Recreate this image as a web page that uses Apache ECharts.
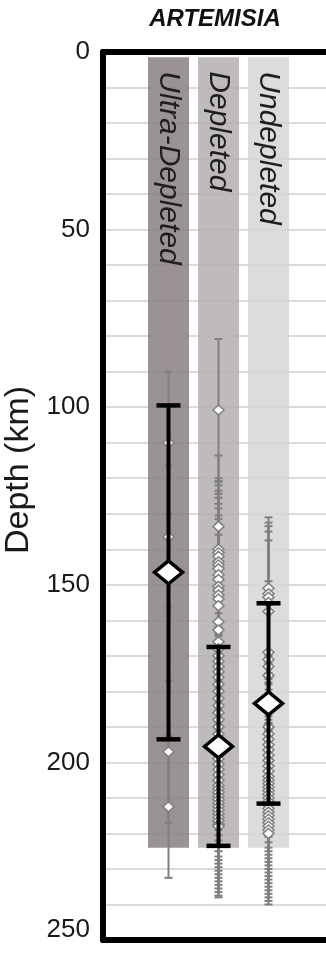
<!DOCTYPE html>
<html>
<head>
<meta charset="utf-8">
<script src="https://cdn.jsdelivr.net/npm/echarts@6/dist/echarts.min.js"></script>
<style>
  html, body { margin: 0; padding: 0; background: #fff; }
  #chart { width: 326px; height: 953px; }
</style>
</head>
<body>
<div id="chart"></div>
<script>
// Mantle sample groups (one column each)
const categories = ['Ultra-Depleted', 'Depleted', 'Undepleted'];

// Depth span covered by each shaded column (km)
const columnDepthRange = [1.5, 224];

// Individual sample depths (km) per group
const ultraDepletedDepths = [110, 136.5, 197, 212.5];
const depletedDepths = [
  100.8, 133.6, 140, 141, 142, 143.5, 144.4, 145.5, 147.2, 148.5, 150.5, 151.5,
  152.9, 154, 155.9, 160.4, 162.7, 166, 168, 170, 171.5, 173, 174.5, 176, 178,
  180, 182, 184, 186, 188, 190, 192, 194, 197, 199, 200.5, 202, 203.5, 205,
  206.5, 207.5, 208.5, 209.5, 210.5, 211.5, 212.5, 213.5, 214.5, 215.5, 216.5,
  217.5, 218
];
const undepletedDepths = [
  151, 152.5, 153.5, 155, 157.5, 169, 171, 173, 175.5, 190, 192, 193.5, 195,
  196.5, 198, 199.5, 201, 202.5, 204, 205, 206, 207, 208, 209, 210, 211, 212,
  213, 214, 215, 216, 217, 218, 219, 220
];
// Depth uncertainty of a single sample (km)
const sampleError = 20;

// Group averages and their spread (km)
const meanDepth = [146.5, 195.5, 183.4];
const meanError = [47, 28, 28.2];

// Depth axis
const depthMin = 0;
const depthMax = 250;
const depthLabelStep = 50;
const depthGridStep = 10;

const sampleDepths = [ultraDepletedDepths, depletedDepths, undepletedDepths];
const columnColors = ['rgba(137,128,128,0.85)', 'rgba(180,175,175,0.85)', 'rgba(214,214,216,0.85)'];
const LABEL_FONT = '"Liberation Sans", Arial, sans-serif';
const X_MIN = -1.31, X_MAX = 3.23;

const columnData = categories.map((c, i) => [i, columnDepthRange[0], columnDepthRange[1]]);
const sampleData = [];
sampleDepths.forEach((list, i) => list.forEach(d => sampleData.push([i, d, sampleError])));
const meanData = meanDepth.map((d, i) => [i, d, meanError[i]]);

function errorBar(color, lineWidth, capHalf, capWidth) {
  return function (params, api) {
    const i = api.value(0), d = api.value(1), e = api.value(2);
    const top = api.coord([i, d - e]);
    const bot = api.coord([i, d + e]);
    const s = { stroke: color, lineWidth: lineWidth };
    const c = { stroke: color, lineWidth: capWidth };
    return {
      type: 'group',
      children: [
        { type: 'line', shape: { x1: top[0], y1: top[1], x2: bot[0], y2: bot[1] }, style: s },
        { type: 'line', shape: { x1: top[0] - capHalf, y1: top[1], x2: top[0] + capHalf, y2: top[1] }, style: c },
        { type: 'line', shape: { x1: bot[0] - capHalf, y1: bot[1], x2: bot[0] + capHalf, y2: bot[1] }, style: c }
      ]
    };
  };
}

// Frame edges along the top and bottom of the plot
function frameAxis(position) {
  return {
    type: 'value', min: X_MIN, max: X_MAX, position: position,
    axisLine: { show: true, onZero: false, lineStyle: { color: '#000', width: 6 } },
    axisTick: { show: false },
    axisLabel: { show: false },
    splitLine: { show: false }
  };
}

const chart = echarts.init(document.getElementById('chart'), null, { renderer: 'canvas' });
chart.setOption({
  animation: false,
  backgroundColor: '#fff',
  graphic: [{
    type: 'text',
    x: 215, y: 19,
    style: {
      text: 'ARTEMISIA',
      font: 'italic bold 24px ' + LABEL_FONT,
      fill: '#111',
      align: 'center',
      verticalAlign: 'middle'
    }
  }],
  grid: {
    left: 103, right: -4, top: 52, bottom: 13, show: false,
    containLabel: false, outerBoundsMode: 'none'
  },
  xAxis: [frameAxis('bottom'), frameAxis('top')],
  yAxis: {
    type: 'value',
    inverse: true,
    min: depthMin, max: depthMax, interval: depthGridStep,
    name: 'Depth (km)',
    nameLocation: 'middle',
    nameGap: 54,
    nameTextStyle: { fontSize: 34, fontFamily: LABEL_FONT, color: '#1a1a1a', padding: [0, 0, 0, 52] },
    axisLine: { show: true, onZero: false, lineStyle: { color: '#000', width: 6 } },
    axisTick: { show: false },
    axisLabel: {
      margin: 13,
      fontSize: 26,
      fontFamily: LABEL_FONT,
      color: '#1a1a1a',
      showMinLabel: true, showMaxLabel: true,
      formatter: v => (v % depthLabelStep === 0 ? (v === depthMax ? '{up|' + v + '}' : String(v)) : ''),
      rich: { up: { fontSize: 26, fontFamily: LABEL_FONT, color: '#1a1a1a', padding: [0, 0, 20, 0] } }
    },
    splitLine: { show: true, lineStyle: { color: '#cfcfcf', width: 1.5 } }
  },
  series: [
    {
      type: 'custom',
      data: columnData,
      z: 1,
      renderItem: function (params, api) {
        const i = api.value(0);
        const p0 = api.coord([i - 0.41, api.value(1)]);
        const p1 = api.coord([i + 0.41, api.value(2)]);
        return {
          type: 'group',
          children: [
            { type: 'rect', shape: { x: p0[0], y: p0[1], width: p1[0] - p0[0], height: p1[1] - p0[1] },
              style: { fill: columnColors[i] } },
            { type: 'text', x: (p0[0] + p1[0]) / 2, y: p0[1] + 14, rotation: -Math.PI / 2,
              style: { text: categories[i], font: 'italic 30px ' + LABEL_FONT, fill: '#1e1e1e',
                       align: 'left', verticalAlign: 'middle' } }
          ]
        };
      }
    },
    {
      type: 'custom',
      data: sampleData,
      z: 2,
      renderItem: errorBar('#7f7f7f', 2, 4, 2)
    },
    {
      type: 'scatter',
      data: sampleData.map(p => [p[0], p[1]]),
      z: 3,
      symbol: 'diamond',
      symbolSize: [11, 10],
      itemStyle: { color: '#fff', borderColor: '#7f7f7f', borderWidth: 1.5, opacity: 1 }
    },
    {
      type: 'custom',
      data: meanData,
      z: 4,
      renderItem: errorBar('#000', 4, 12, 4.5)
    },
    {
      type: 'scatter',
      data: meanData.map(p => [p[0], p[1]]),
      z: 5,
      symbol: 'diamond',
      symbolSize: [28, 23],
      itemStyle: { color: '#fff', borderColor: '#000', borderWidth: 3.5, opacity: 1 }
    }
  ]
});
</script>
</body>
</html>
